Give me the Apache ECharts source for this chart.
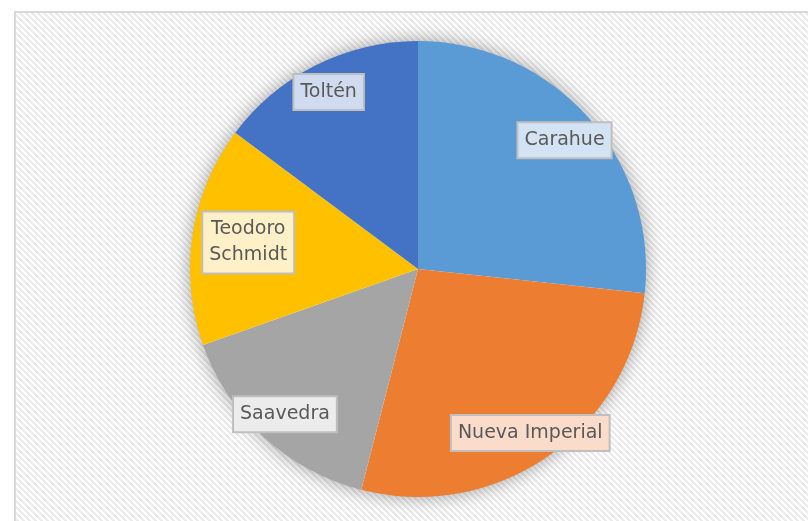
<!DOCTYPE html>
<html>
<head>
<meta charset="utf-8">
<script src="https://cdn.jsdelivr.net/npm/echarts@6/dist/echarts.min.js"></script>
<style>
  html, body { margin: 0; padding: 0; background: #fff; }
  #chart { width: 808px; height: 521px; }
</style>
</head>
<body>
<div id="chart"></div>
<script>
const categories = ['Carahue', 'Nueva Imperial', 'Saavedra', 'Teodoro\nSchmidt', 'Toltén']
const values = [26.7, 27.3, 15.6, 15.6, 14.8]
const sliceColors = ['#5b9bd5', '#ed7d31', '#a5a5a5', '#ffc000', '#4472c4']
const labelFills = ['#d3e3f3', '#fbdccb', '#ececec', '#fff0c8', '#d0dbf0']
const labelShift = [[0, 3], [0, 2], [0, 0], [25, 3], [-1, -1]]

function makeHatch() {
  const size = 6
  const c = document.createElement('canvas')
  c.width = size
  c.height = size
  const ctx = c.getContext('2d')
  ctx.fillStyle = '#ffffff'
  ctx.fillRect(0, 0, size, size)
  ctx.fillStyle = '#ebebeb'
  for (let y = 0; y < size; y++) {
    for (let x = 0; x < size; x++) {
      if (((x - y) % size + size) % size < 3) ctx.fillRect(x, y, 1, 1)
    }
  }
  return c
}

const chart = echarts.init(document.getElementById('chart'))

const pieData = categories.map((name, i) => ({
  name,
  value: values[i],
  itemStyle: { color: sliceColors[i] },
}))

const labelData = categories.map((name, i) => ({
  name,
  value: values[i],
  label: { backgroundColor: labelFills[i], offset: labelShift[i] },
}))

chart.setOption({
  animation: false,
  graphic: [
    {
      type: 'rect',
      z: -10,
      shape: { x: 15, y: 12, width: 800, height: 515 },
      style: {
        fill: { image: makeHatch(), repeat: 'repeat' },
        stroke: '#d9d9d9',
        lineWidth: 2,
      },
    },
  ],
  series: [
    {
      // shadow disc under the whole pie
      type: 'pie',
      z: 1,
      center: [418, 269],
      radius: 227,
      silent: true,
      label: { show: false },
      labelLine: { show: false },
      itemStyle: {
        color: '#ffffff',
        shadowBlur: 20,
        shadowColor: 'rgba(0, 0, 0, 0.4)',
      },
      data: [{ name: 'all', value: 1 }],
    },
    {
      type: 'pie',
      z: 2,
      center: [418, 269],
      radius: 228,
      startAngle: 90,
      clockwise: true,
      silent: true,
      label: { show: false },
      labelLine: { show: false },
      itemStyle: { borderWidth: 0 },
      data: pieData,
    },
    {
      type: 'pie',
      z: 3,
      center: [418, 269],
      radius: [160, 228],
      startAngle: 90,
      clockwise: true,
      silent: true,
      itemStyle: { color: 'rgba(0,0,0,0)' },
      label: {
        show: true,
        position: 'inside',
        formatter: '{b}',
        color: '#595959',
        fontFamily: 'DejaVu Sans',
        fontSize: 19,
        lineHeight: 26,
        borderColor: '#bfbfbf',
        borderWidth: 2,
        padding: [5, 6, 3, 6],
      },
      labelLine: { show: false },
      data: labelData,
    },
  ],
})
</script>
</body>
</html>
